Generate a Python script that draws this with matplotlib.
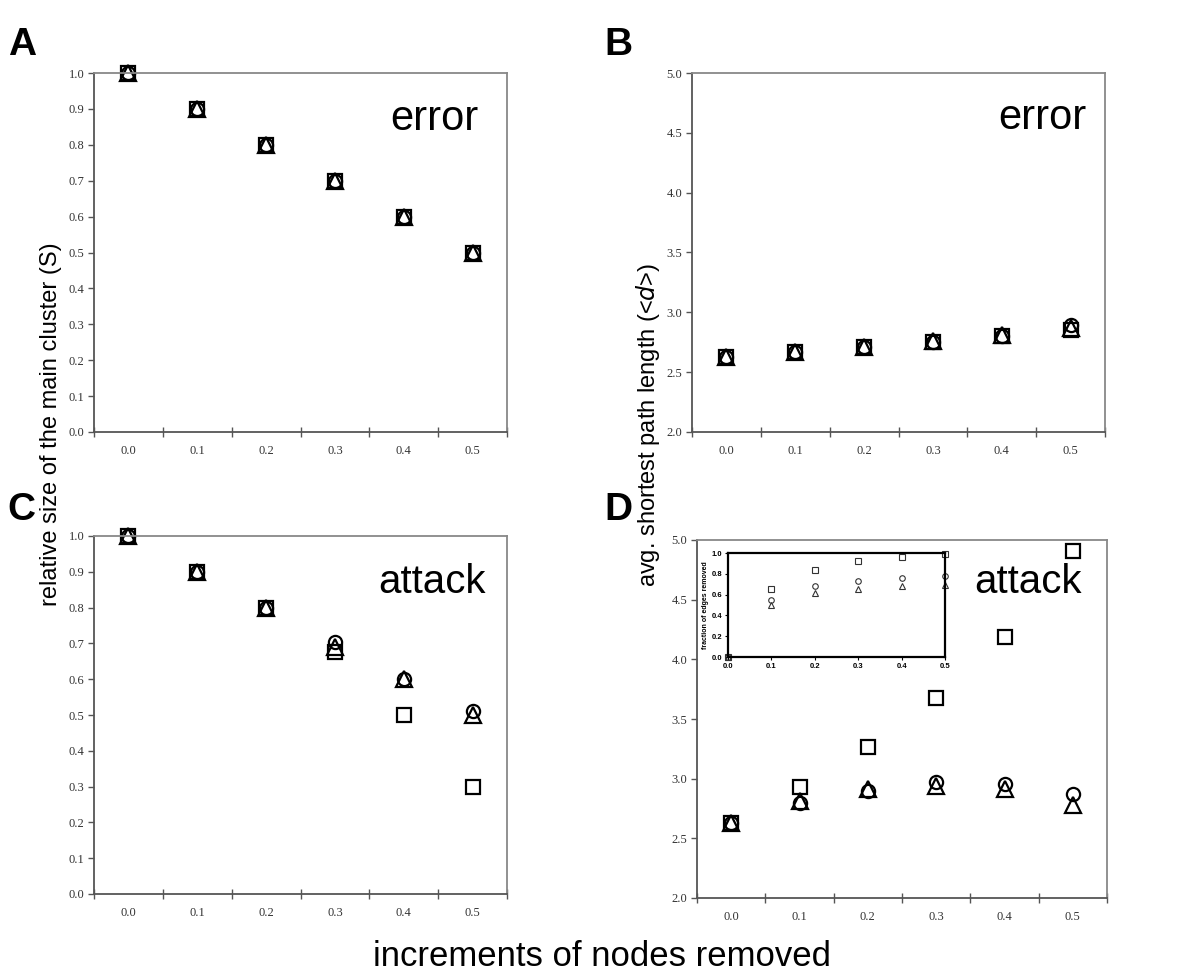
import matplotlib
matplotlib.use("Agg")
import matplotlib.pyplot as plt

# fraction of nodes removed (categories)
increments = ["0.0", "0.1", "0.2", "0.3", "0.4", "0.5"]

# A: relative size of main cluster, error
err_S_sq = [1.0, 0.9, 0.8, 0.7, 0.6, 0.5]
err_S_ci = [1.0, 0.9, 0.8, 0.7, 0.6, 0.5]
err_S_tr = [1.0, 0.9, 0.8, 0.7, 0.6, 0.5]

# B: avg shortest path length, error
err_d_sq = [2.63, 2.67, 2.71, 2.75, 2.80, 2.85]
err_d_ci = [2.63, 2.67, 2.71, 2.75, 2.80, 2.89]
err_d_tr = [2.63, 2.67, 2.71, 2.76, 2.81, 2.87]

# C: relative size of main cluster, attack
att_S_sq = [1.0, 0.9, 0.8, 0.675, 0.50, 0.30]
att_S_ci = [1.0, 0.9, 0.8, 0.705, 0.60, 0.51]
att_S_tr = [1.0, 0.9, 0.8, 0.69, 0.60, 0.50]

# D: avg shortest path length, attack
att_d_sq = [2.63, 2.93, 3.265, 3.68, 4.19, 4.91]
att_d_ci = [2.63, 2.80, 2.90, 2.97, 2.955, 2.875]
att_d_tr = [2.63, 2.81, 2.91, 2.94, 2.91, 2.78]

# inset: fraction of edges removed
inset_x = [0.0, 0.1, 0.2, 0.3, 0.4, 0.5]
edges_sq = [0.0, 0.65, 0.835, 0.925, 0.965, 0.99]
edges_ci = [0.0, 0.55, 0.68, 0.735, 0.76, 0.775]
edges_tr = [0.0, 0.50, 0.615, 0.655, 0.68, 0.69]

W, H = 1200, 977
fig = plt.figure(figsize=(W / 100, H / 100), dpi=100)
fig.patch.set_facecolor("white")

sans = ["Liberation Sans", "DejaVu Sans"]
serif = ["Liberation Serif", "DejaVu Serif"]


def box(x0, y0, x1, y1):
    return [x0 / W, 1 - y1 / H, (x1 - x0) / W, (y1 - y0) / H]


def panel(rect, sq, ci, tr, ylim, yticks, word, wx, wy):
    ax = fig.add_axes(box(*rect))
    xs = list(range(len(increments)))
    kw = dict(ls="none", mfc="none", mec="black", mew=1.6, clip_on=False)
    ax.plot(xs, sq, marker="s", ms=9.5, **kw)
    ax.plot(xs, ci, marker="o", ms=9.5, **kw)
    ax.plot(xs, tr, marker="^", ms=12, **kw)
    ax.set_xlim(-0.5, len(increments) - 0.5)
    ax.set_ylim(*ylim)
    ax.set_xticks([i + 0.5 for i in range(-1, len(increments))])
    ax.set_xticklabels([])
    ax.set_xticks(xs, minor=True)
    ax.set_xticklabels(increments, minor=True)
    ax.tick_params(axis="x", which="major", direction="inout", length=7,
                   color="#555555", width=1)
    ax.tick_params(axis="x", which="minor", length=0, pad=9)
    ax.set_yticks(yticks)
    ax.set_yticklabels(["%.1f" % v for v in yticks])
    ax.tick_params(axis="y", direction="out", length=4, color="#555555",
                   width=1, pad=3)
    for lab in ax.get_xticklabels(minor=True) + ax.get_yticklabels():
        lab.set_family(serif)
        lab.set_fontsize(9)
        lab.set_color("#333333")
    for s in ax.spines.values():
        s.set_color("#888888")
        s.set_linewidth(1.3)
    ax.spines["bottom"].set_color("#555555")
    ax.spines["left"].set_color("#555555")
    ax.text(wx, wy, word, transform=ax.transAxes, ha="right",
            va="baseline", fontsize=30 if word == "error" else 29,
            family=sans)
    return ax


panel((94, 73, 507, 432), err_S_sq, err_S_ci, err_S_tr, (0, 1),
      [i / 10 for i in range(11)], "error", 0.932, 0.841)
panel((692, 73, 1105, 432), err_d_sq, err_d_ci, err_d_tr, (2, 5),
      [2.0, 2.5, 3.0, 3.5, 4.0, 4.5, 5.0], "error", 0.956, 0.844)
panel((94, 536, 507, 894), att_S_sq, att_S_ci, att_S_tr, (0, 1),
      [i / 10 for i in range(11)], "attack", 0.949, 0.841)
panel((697, 540, 1107, 898), att_d_sq, att_d_ci, att_d_tr, (2, 5),
      [2.0, 2.5, 3.0, 3.5, 4.0, 4.5, 5.0], "attack", 0.939, 0.852)

# inset
ins = fig.add_axes(box(728, 553, 945, 657))
kw = dict(ls="none", mfc="none", mec="#333333", mew=0.8, clip_on=False)
ins.plot(inset_x, edges_sq, marker="s", ms=4, **kw)
ins.plot(inset_x, edges_ci, marker="o", ms=4, **kw)
ins.plot(inset_x, edges_tr, marker="^", ms=5, **kw)
ins.set_xlim(0, 0.5)
ins.set_ylim(0, 1)
ins.set_xticks(inset_x)
ins.set_xticklabels(["%.1f" % v for v in inset_x])
ins.set_yticks([0, 0.2, 0.4, 0.6, 0.8, 1.0])
ins.set_yticklabels(["0.0", "0.2", "0.4", "0.6", "0.8", "1.0"])
ins.tick_params(direction="out", length=2, width=0.8, labelsize=5.5, pad=2)
for lab in ins.get_xticklabels() + ins.get_yticklabels():
    lab.set_fontweight("bold")
    lab.set_family(sans)
ins.set_ylabel("fraction of edges removed", fontsize=5, fontweight="bold",
               family=sans, labelpad=2)
for s in ins.spines.values():
    s.set_linewidth(1.6)
    s.set_color("black")

# panel letters
for letter, x, y in [("A", 8, 55), ("B", 604, 55), ("C", 7, 520), ("D", 604, 520)]:
    fig.text(x / W, 1 - y / H, letter, fontsize=28, fontweight="bold",
             family=sans, va="baseline", ha="left")

# shared axis labels
fig.text(51 / W, 1 - 424 / H, "relative size of the main cluster (S)",
         rotation=90, ha="center", va="center", fontsize=17, family=sans)
fig.text(648 / W, 1 - 425 / H, r"avg. shortest path length (<$\it{d}$>)",
         rotation=90, ha="center", va="center", fontsize=17, family=sans)
fig.text(602 / W, 1 - 957 / H, "increments of nodes removed",
         ha="center", va="center", fontsize=25, family=sans)

fig.savefig("out.png", dpi=100, facecolor="white")
